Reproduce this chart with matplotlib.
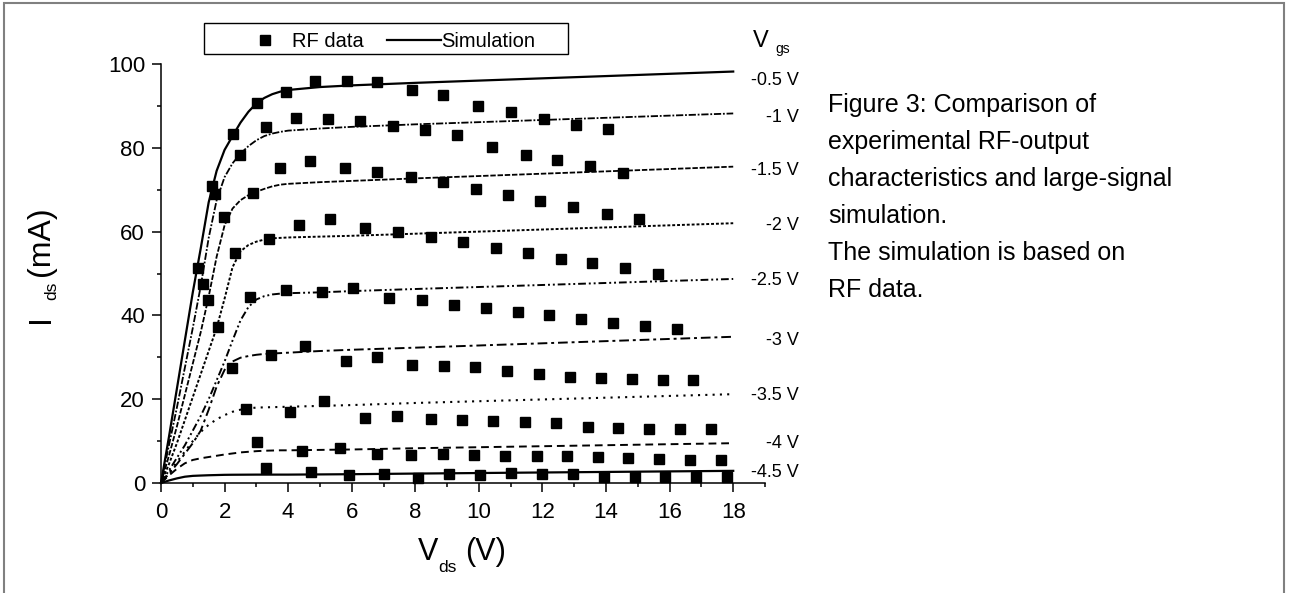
import matplotlib
matplotlib.use("Agg")
import matplotlib.pyplot as plt
from matplotlib.patches import Rectangle
from matplotlib.lines import Line2D

plt.rcParams['font.family'] = ['Liberation Sans', 'DejaVu Sans']

# ---------------- data ----------------
vgs_labels = ['-0.5 V', '-1 V', '-1.5 V', '-2 V', '-2.5 V', '-3 V', '-3.5 V', '-4 V', '-4.5 V']

# simulation curves (common Vds grid)
sim_vds = [0, 0.25, 0.5, 0.75, 1, 1.25, 1.5, 1.75, 2, 2.25, 2.5, 2.75, 3, 3.25, 3.5, 3.75, 4, 5, 6, 8, 18]
sim_m05 = [0, 11, 22.5, 34, 45.5, 56, 67, 74.5, 79.5, 82.8, 86, 88.6, 90.6, 91.9, 92.8, 93.4, 93.8, 94.5, 94.9, 95.5, 98.2]
sim_m10 = [0, 9, 18, 27.5, 37, 47, 58.5, 67.5, 73, 76.3, 78.6, 80.4, 81.8, 82.8, 83.4, 83.8, 84.1, 84.6, 85.0, 85.6, 88.2]
sim_m15 = [0, 6.5, 13.5, 21, 28.5, 36, 44.5, 54, 61.5, 65.5, 67.5, 68.7, 69.5, 70.2, 70.8, 71.2, 71.4, 71.8, 72.1, 72.7, 75.5]
sim_m20 = [0, 4.5, 9.5, 15, 20.5, 26, 31.5, 37, 44, 51.5, 55.3, 56.8, 57.6, 58.1, 58.4, 58.5, 58.6, 58.8, 59.0, 59.5, 62.0]
sim_m25 = [0, 3, 6, 9, 12.5, 16, 20, 24.5, 29, 34, 38.8, 42, 43.8, 44.6, 45.0, 45.2, 45.3, 45.5, 45.8, 46.3, 48.7]
sim_m30 = [0, 2.2, 4.5, 7, 9.5, 12.5, 17.5, 23, 27, 29, 29.9, 30.3, 30.6, 30.8, 30.9, 31.0, 31.1, 31.5, 31.8, 32.3, 34.9]
sim_m35 = [0, 2.5, 5, 7.5, 10, 12.2, 13.9, 15.2, 16.2, 17, 17.5, 17.8, 18, 18.05, 18.1, 18.15, 18.2, 18.4, 18.6, 19.1, 21.2]
sim_m40 = [0, 1.8, 3.4, 4.7, 5.5, 5.9, 6.2, 6.5, 6.8, 7.05, 7.3, 7.45, 7.6, 7.7, 7.75, 7.8, 7.8, 7.9, 8.0, 8.3, 9.5]
sim_m45 = [0, 0.6, 1.1, 1.5, 1.7, 1.78, 1.85, 1.9, 1.95, 1.97, 1.98, 1.99, 2.0, 2.0, 2.0, 2.0, 2.0, 2.05, 2.1, 2.25, 2.9]

# RF measured data
rf_x_m05 = [1.15, 1.59, 2.27, 3.02, 3.93, 4.86, 5.84, 6.81, 7.88, 8.88, 9.98, 11.0, 12.05, 13.06, 14.07]
rf_y_m05 = [51.4, 71.0, 83.4, 90.8, 93.3, 95.9, 95.9, 95.7, 93.8, 92.7, 90.0, 88.6, 86.8, 85.4, 84.4]
rf_x_m10 = [1.31, 1.71, 2.48, 3.29, 4.24, 5.26, 6.26, 7.31, 8.30, 9.32, 10.42, 11.47, 12.46, 13.51, 14.53]
rf_y_m10 = [47.6, 68.9, 78.3, 85.0, 87.0, 86.9, 86.4, 85.2, 84.2, 83.0, 80.1, 78.2, 77.2, 75.7, 73.9]
rf_x_m15 = [1.49, 1.98, 2.90, 3.74, 4.69, 5.79, 6.81, 7.85, 8.87, 9.90, 10.93, 11.93, 12.97, 14.02, 15.03]
rf_y_m15 = [43.7, 63.4, 69.1, 75.1, 76.8, 75.1, 74.2, 73.0, 71.8, 70.2, 68.7, 67.4, 65.8, 64.3, 63.1]
rf_x_m20 = [1.78, 2.33, 3.40, 4.34, 5.31, 6.42, 7.44, 8.49, 9.51, 10.53, 11.53, 12.57, 13.57, 14.60, 15.62]
rf_y_m20 = [37.2, 55.0, 58.2, 61.6, 63.0, 60.9, 59.8, 58.6, 57.4, 56.2, 55.0, 53.5, 52.4, 51.2, 49.9]
rf_x_m25 = [2.22, 2.80, 3.93, 5.05, 6.05, 7.16, 8.20, 9.21, 10.21, 11.22, 12.22, 13.22, 14.21, 15.21, 16.22]
rf_y_m25 = [27.4, 44.4, 46.1, 45.7, 46.6, 44.2, 43.6, 42.4, 41.8, 40.9, 40.0, 39.1, 38.3, 37.5, 36.7]
rf_x_m30 = [3.45, 4.54, 5.81, 6.79, 7.90, 8.89, 9.87, 10.87, 11.88, 12.88, 13.85, 14.81, 15.79, 16.75]
rf_y_m30 = [30.5, 32.8, 29.1, 30.0, 28.2, 28.0, 27.8, 26.8, 26.1, 25.3, 25.1, 24.9, 24.7, 24.7]
rf_x_m35 = [2.66, 4.06, 5.13, 6.42, 7.42, 8.49, 9.47, 10.45, 11.44, 12.41, 13.42, 14.38, 15.35, 16.32, 17.30]
rf_y_m35 = [17.7, 16.9, 19.6, 15.6, 16.1, 15.2, 15.0, 14.8, 14.6, 14.3, 13.3, 13.2, 13.0, 12.9, 12.8]
rf_x_m40 = [3.01, 4.45, 5.64, 6.80, 7.85, 8.86, 9.84, 10.83, 11.82, 12.76, 13.74, 14.70, 15.67, 16.64, 17.62]
rf_y_m40 = [9.7, 7.6, 8.3, 6.9, 6.7, 6.9, 6.7, 6.5, 6.4, 6.4, 6.1, 5.9, 5.7, 5.5, 5.4]
rf_x_m45 = [3.30, 4.71, 5.92, 7.02, 8.09, 9.07, 10.05, 11.01, 12.0, 12.97, 13.94, 14.92, 15.87, 16.83, 17.80]
rf_y_m45 = [3.5, 2.6, 1.9, 2.1, 1.3, 2.1, 1.9, 2.3, 2.1, 2.1, 1.4, 1.4, 1.4, 1.4, 1.4]

x_ticks = [0, 2, 4, 6, 8, 10, 12, 14, 16, 18]
y_ticks = [0, 20, 40, 60, 80, 100]

caption_lines = ['Figure 3: Comparison of', 'experimental RF-output',
                 'characteristics and large-signal', 'simulation.',
                 'The simulation is based on', 'RF data.']

# ---------------- styling ----------------
sim_curves = [sim_m05, sim_m10, sim_m15, sim_m20, sim_m25, sim_m30, sim_m35, sim_m40, sim_m45]
rf_sets = [(rf_x_m05, rf_y_m05), (rf_x_m10, rf_y_m10), (rf_x_m15, rf_y_m15),
           (rf_x_m20, rf_y_m20), (rf_x_m25, rf_y_m25), (rf_x_m30, rf_y_m30),
           (rf_x_m35, rf_y_m35), (rf_x_m40, rf_y_m40), (rf_x_m45, rf_y_m45)]
line_styles = ['-', (0, (4, 1, 1, 1)), (0, (3, 1)), (0, (1.5, 1)),
               (0, (4, 1.5, 1, 1.5, 1, 1.5)), (0, (5, 2, 1.5, 2)), (0, (1, 2.5)),
               (0, (4, 2.5)), '-']
line_widths = [1.6, 1.3, 1.3, 1.4, 1.4, 1.4, 1.5, 1.4, 1.6]
label_baseline_y = [95.0, 86.2, 73.5, 60.4, 47.3, 32.9, 19.8, 8.35, 1.4]

W, H = 1291, 593
fig = plt.figure(figsize=(W / 100, H / 100), dpi=100)

def fx(px):
    return px / W

def fy(py):
    return 1 - py / H

ax = fig.add_axes([fx(161), fy(483), (765 - 161) / W, (483 - 64) / H])

for yv, ls, lw in zip(sim_curves, line_styles, line_widths):
    ax.plot(sim_vds, yv, color='black', linestyle=ls, linewidth=lw, clip_on=False)
for xs, ys in rf_sets:
    ax.plot(xs, ys, linestyle='none', marker='s', markersize=7.2, color='black', clip_on=False)

for lab, yb in zip(vgs_labels, label_baseline_y):
    ax.text(20.06, yb, lab, ha='right', va='baseline', fontsize=13, clip_on=False)

ax.set_xlim(0, 19)
ax.set_ylim(0, 100)
ax.set_xticks(x_ticks)
ax.set_yticks(y_ticks)
ax.set_xticks(range(0, 20), minor=True)
ax.set_yticks(range(0, 101, 10), minor=True)
for s in ['top', 'right']:
    ax.spines[s].set_visible(False)
for s in ['left', 'bottom']:
    ax.spines[s].set_linewidth(1.1)
ax.tick_params(which='major', direction='out', length=6.5, width=1.1, labelsize=16, pad=5)
ax.tick_params(which='minor', direction='out', length=3.2, width=1.1)
ax.tick_params(axis='x', which='major', pad=7)

# axis labels
fig.text(fx(418), fy(560), 'V', fontsize=22, ha='left', va='baseline')
fig.text(fx(438), fy(571.7), 'ds', fontsize=12.5, ha='left', va='baseline')
fig.text(fx(465), fy(560), '(V)', fontsize=22, ha='left', va='baseline')

fig.text(fx(26), fy(323), 'I', fontsize=23, rotation=90, ha='left', va='bottom')
fig.text(fx(44), fy(300), 'ds', fontsize=12.5, rotation=90, ha='left', va='bottom')
fig.text(fx(26), fy(276), '(mA)', fontsize=23, rotation=90, ha='left', va='bottom')

# Vgs header
fig.text(fx(753), fy(46.7), 'V', fontsize=17, ha='left', va='baseline')
fig.text(fx(775), fy(53), 'gs', fontsize=10, ha='left', va='baseline')

# caption
for i, line in enumerate(caption_lines):
    fig.text(fx(828), fy(112 + 37 * i), line, fontsize=18, ha='left', va='baseline')

# legend box
fig.add_artist(Rectangle((fx(204), fy(54)), 364 / W, 31 / H, transform=fig.transFigure,
                         fill=False, edgecolor='black', linewidth=1.0))
fig.add_artist(Line2D([fx(265)], [fy(40)], transform=fig.transFigure, marker='s',
                      markersize=7.2, color='black', linestyle='none'))
fig.text(fx(292), fy(46.7), 'RF data', fontsize=14.5, ha='left', va='baseline')
fig.add_artist(Line2D([fx(387), fx(441)], [fy(39.5), fy(39.5)], transform=fig.transFigure,
                      color='black', linewidth=1.6))
fig.text(fx(441), fy(46.7), 'Simulation', fontsize=14.5, ha='left', va='baseline')

# outer frame
fig.add_artist(Rectangle((fx(4), -0.05), 1280 / W, fy(3) + 0.05, transform=fig.transFigure,
                         fill=False, edgecolor='#808080', linewidth=1.5))

fig.savefig('out.png', dpi=100)
